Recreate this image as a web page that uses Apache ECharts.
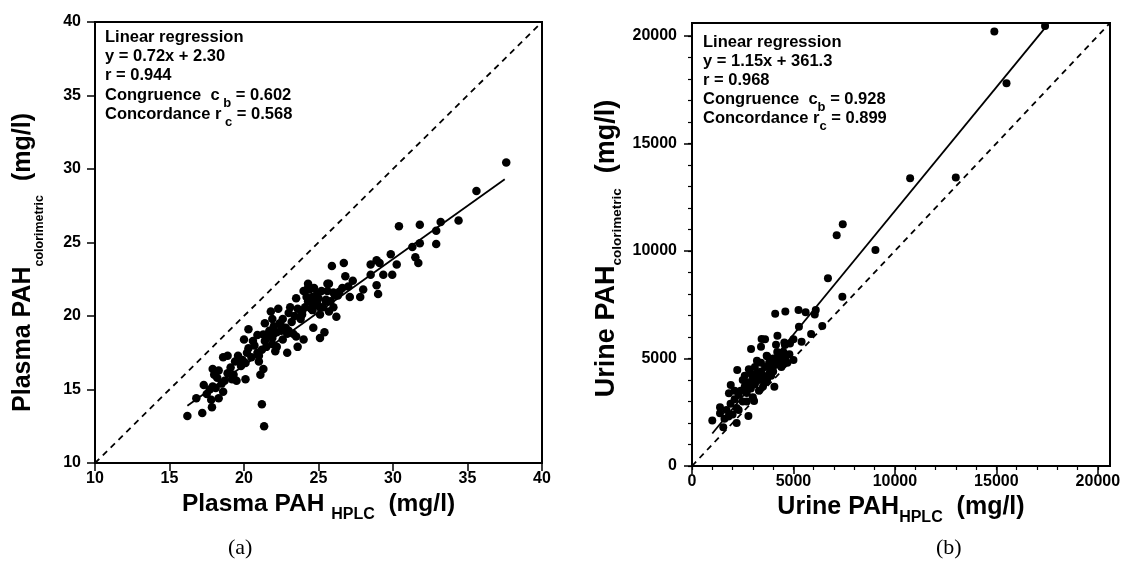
<!DOCTYPE html>
<html>
<head>
<meta charset="utf-8">
<script src="https://cdn.jsdelivr.net/npm/echarts@6/dist/echarts.min.js"></script>
<style>
  html, body { margin: 0; padding: 0; background: #fff; }
  #chart { width: 1132px; height: 578px; }
</style>
</head>
<body>
<div id="chart"></div>
<script>
// (a) plasma PAH: [HPLC, colorimetric] in mg/l
const plasmaPoints = [
  [16.2, 13.2], [17.2, 13.4], [16.8, 14.4], [17.85, 13.8], [17.8, 14.3], [18.3, 14.4],
  [17.3, 15.3], [21.2, 14.0], [21.35, 12.5], [17.7, 15.0], [18.1, 15.1], [18.6, 14.85],
  [18.7, 15.6], [17.9, 16.4], [18.3, 16.3], [18.6, 17.2], [18.9, 17.3], [19.3, 16.0],
  [19.5, 15.6], [20.1, 15.7], [19.8, 16.6], [20.3, 19.1], [20.0, 18.4], [20.6, 18.3],
  [20.2, 17.5], [20.9, 17.5], [21.1, 16.0], [21.0, 16.9], [21.3, 16.4], [21.4, 19.5],
  [21.3, 18.75], [21.9, 19.8], [22.1, 17.6], [21.9, 18.1], [21.5, 17.9], [22.3, 20.5],
  [22.5, 19.0], [22.6, 18.4], [22.9, 17.5], [23.0, 20.2], [23.2, 19.6], [23.3, 18.8],
  [23.5, 21.2], [23.6, 17.9], [24.0, 18.4], [23.9, 20.1], [24.4, 21.8], [24.65, 19.2],
  [24.3, 21.0], [24.8, 20.8], [24.9, 21.5], [25.1, 18.5], [25.4, 18.9], [25.1, 20.1],
  [25.7, 20.3], [25.6, 22.2], [26.2, 19.95], [26.3, 21.4], [25.9, 23.4], [26.7, 23.6],
  [26.8, 22.7], [27.3, 22.4], [27.1, 21.3], [27.8, 21.3], [28.0, 21.8], [28.5, 23.5],
  [28.5, 22.8], [28.9, 23.8], [28.9, 22.1], [29.0, 21.5], [29.1, 23.6], [29.35, 22.8],
  [29.85, 24.2], [29.95, 22.8], [30.25, 23.5], [30.4, 26.1], [31.3, 24.7], [31.5, 24.0],
  [31.7, 23.6], [31.8, 24.95], [31.8, 26.2], [32.9, 24.9], [32.9, 25.8], [33.2, 26.4],
  [34.4, 26.5], [35.6, 28.5], [37.6, 30.45], [26.4, 21.65], [27.0, 22.0], [25.5, 21.1],
  [26.0, 20.6], [25.1, 20.6], [24.3, 21.9], [24.6, 21.3], [24.5, 20.5], [23.9, 20.3],
  [22.0, 18.8], [23.5, 18.6], [22.9, 18.8], [22.5, 19.3], [17.9, 15.2], [18.2, 15.8],
  [18.5, 15.4], [18.9, 16.1], [19.1, 16.5], [19.4, 16.9], [19.6, 17.3], [19.9, 17.0],
  [20.3, 17.8], [20.5, 17.2], [20.7, 18.0], [20.9, 18.7], [21.0, 17.3], [21.2, 17.7],
  [21.4, 18.3], [21.6, 18.6], [21.7, 19.0], [21.9, 18.5], [22.0, 19.3], [22.2, 18.9],
  [22.4, 19.5], [22.6, 19.8], [22.8, 19.2], [23.0, 19.0], [23.1, 20.6], [23.4, 20.0],
  [23.6, 20.5], [23.8, 19.8], [24.1, 20.6], [24.2, 21.3], [24.5, 21.0], [24.6, 20.4],
  [24.7, 21.9], [24.9, 20.9], [25.0, 21.2], [25.2, 21.7], [25.3, 20.6], [25.5, 21.0],
  [25.8, 21.0], [26.0, 21.6], [26.6, 21.9], [19.2, 15.7], [18.0, 16.0], [17.5, 14.7],
  [20.1, 16.8], [22.2, 17.9], [21.8, 20.3], [24.3, 22.2], [24.0, 21.7], [25.7, 22.2],
  [26.1, 21.4], [25.6, 21.7]
];
const plasmaFit = [[16.2, 13.9], [37.5, 29.3]];
const plasmaIdentity = [[10, 10], [40, 40]];
const plasmaStats = [
  "{t|Linear regression}",
  "{t|y = 0.72x + 2.30}",
  "{t|r = 0.944}",
  "{t|Congruence  c}{s| b}{t| = 0.602}",
  "{t|Concordance r}{s| c}{t| = 0.568}"
];

// (b) urine PAH: [HPLC, colorimetric] in mg/l
const urinePoints = [
  [14900, 20200], [17400, 20460], [15500, 17800], [10750, 13380], [13000, 13420],
  [7130, 10730], [7430, 11240], [9040, 10040], [6700, 8730], [7410, 7870], [6420, 6510],
  [6100, 7250], [6050, 7050], [5250, 7250], [5600, 7150], [4600, 7180], [4100, 7080],
  [5270, 6480], [5870, 6140], [5000, 5890], [5400, 5780], [4550, 5740], [4210, 6060],
  [3430, 5900], [4140, 5640], [2910, 5440], [3400, 5550], [2230, 4460], [1820, 3380],
  [1910, 3770], [1000, 2110], [1380, 2730], [1540, 1800], [2200, 2000], [2780, 2330],
  [3060, 3020], [4060, 3690], [4440, 4880], [5000, 4930], [3680, 5130], [1380, 2450],
  [4830, 5700], [4580, 5630], [3600, 5890],
  [1700, 2600], [1900, 2900], [2100, 3100], [2200, 2700], [2300, 3300], [2400, 3500],
  [2500, 3000], [2600, 3700], [2700, 3400], [2800, 3900], [2900, 3600], [3000, 4100],
  [3100, 3800], [3200, 4300], [3300, 4000], [3400, 4400], [3500, 4200], [3600, 4600],
  [3700, 4000], [3800, 4800], [3900, 4500], [4000, 5000], [4100, 4700], [4200, 4900],
  [4300, 5100], [4400, 4600], [4600, 5000], [4700, 4800], [2600, 4200], [2800, 4500],
  [3100, 4600], [3300, 3500], [3500, 3700], [2000, 2400], [1600, 2200], [2500, 4000],
  [3000, 3200], [3700, 5100], [4200, 5300], [3900, 4200], [2300, 2600], [2100, 3500],
  [1800, 2300], [3400, 4800], [2700, 3000], [4500, 5300], [4800, 5200], [3600, 3900],
  [2900, 4300], [3200, 4900], [3800, 4300], [4000, 4400]
];
const urineFit = [[1000, 1511], [17400, 20371]];
const urineIdentity = [[0, 0], [20600, 20600]];
const urineMajorTicks = [0, 5000, 10000, 15000, 20000];
const urineMinorTicks = [];
for (let v = 0; v <= 20000; v += 1000) urineMinorTicks.push(v);
const urineStats = [
  "{t|Linear regression}",
  "{t|y = 1.15x + 361.3}",
  "{t|r = 0.968}",
  "{t|Congruence  c}{s|b}{t| = 0.928}",
  "{t|Concordance r}{s|c}{t| = 0.899}"
];

const FONT = "'Liberation Sans', Arial, sans-serif";
// rich styles for axis titles: m = main text, s = subscript
function titleRich(mainSize, subSize, subDrop) {
  return {
    m: { fontFamily: FONT, fontWeight: "bold", fontSize: mainSize, lineHeight: mainSize + 1, verticalAlign: "top", color: "#000" },
    s: { fontFamily: FONT, fontWeight: "bold", fontSize: subSize, lineHeight: subSize, padding: [subDrop, 0, 0, 0], verticalAlign: "top", color: "#000" }
  };
}
const statRich = {
  t: { fontFamily: FONT, fontWeight: "bold", fontSize: 16.5, lineHeight: 16, verticalAlign: "top", fill: "#000" },
  s: { fontFamily: FONT, fontWeight: "bold", fontSize: 13, lineHeight: 13, padding: [10, 0, 0, 0], verticalAlign: "top", fill: "#000" }
};
const labelStyle = { fontFamily: FONT, fontWeight: "bold", fontSize: 16, color: "#000" };
const blackLine = { color: "#000", width: 2 };

function mainAxis(gridIndex, min, max, interval, name, nameGap, rich, margin, custom, namePad) {
  const ax = {
    gridIndex, type: "value", min, max, interval,
    name, nameLocation: "middle", nameGap,
    nameTextStyle: { rich, padding: namePad || 0 },
    axisLine: { show: true, onZero: false, lineStyle: blackLine },
    axisTick: { show: true, inside: false, length: 8, lineStyle: { color: "#000", width: 1.5 } },
    axisLabel: Object.assign({ margin, formatter: (v) => String(v) }, labelStyle),
    splitLine: { show: false }
  };
  if (custom) {
    ax.axisTick.customValues = custom;
    ax.axisLabel.customValues = custom;
  }
  return ax;
}
function minorAxis(gridIndex, max) {
  return {
    gridIndex, type: "value", min: 0, max,
    axisLine: { show: false },
    axisTick: { show: true, inside: false, length: 4, customValues: urineMinorTicks, lineStyle: { color: "#000", width: 1.2 } },
    axisLabel: { show: false },
    splitLine: { show: false }
  };
}

const graphics = [];
plasmaStats.forEach((line, i) => {
  graphics.push({ type: "text", left: 105, top: 29 + i * 19.2, style: { text: line, rich: statRich } });
});
urineStats.forEach((line, i) => {
  graphics.push({ type: "text", left: 703, top: 34 + i * 19.1, style: { text: line, rich: statRich } });
});
graphics.push({ type: "text", left: 228, top: 537, style: { text: "(a)", font: "22px 'Liberation Serif', serif", fill: "#000" } });
graphics.push({ type: "text", left: 936, top: 537, style: { text: "(b)", font: "22px 'Liberation Serif', serif", fill: "#000" } });

const chart = echarts.init(document.getElementById("chart"));
chart.setOption({
  animation: false,
  backgroundColor: "#fff",
  grid: [
    { left: 95, top: 22, width: 447, height: 441, show: true, borderColor: "#000", borderWidth: 2, backgroundColor: "transparent" },
    { left: 692, top: 23, width: 418, height: 443, show: true, borderColor: "#000", borderWidth: 2, backgroundColor: "transparent" },
    { left: 692, top: 23, width: 418, height: 443, show: false }
  ],
  xAxis: [
    mainAxis(0, 10, 40, 5, "{m|Plasma PAH }{s|HPLC}{m|  (mg/l)}", 24, titleRich(24.5, 16, 15), 8),
    mainAxis(1, 0, 20600, 5000, "{m|Urine PAH}{s|HPLC}{m|  (mg/l)}", 24, titleRich(25, 16, 15), 8, urineMajorTicks),
    minorAxis(2, 20600)
  ],
  yAxis: [
    mainAxis(0, 10, 40, 5, "{m|Plasma PAH}{s|colorimetric}{m|  (mg/l)}", 58, titleRich(25, 12.5, 22), 14, null, [0, 40, 0, 0]),
    mainAxis(1, 0, 20600, 5000, "{m|Urine PAH}{s|colorimetric}{m|  (mg/l)}", 71, titleRich(27, 13.5, 17), 15, urineMajorTicks, [0, 8, 0, 0]),
    minorAxis(2, 20600)
  ],
  graphic: graphics,
  series: [
    { type: "line", xAxisIndex: 0, yAxisIndex: 0, data: plasmaIdentity, symbol: "none",
      lineStyle: { color: "#000", width: 1.8, type: [6, 5] } },
    { type: "line", xAxisIndex: 0, yAxisIndex: 0, data: plasmaFit, symbol: "none",
      lineStyle: { color: "#000", width: 1.8 } },
    { type: "scatter", xAxisIndex: 0, yAxisIndex: 0, data: plasmaPoints, symbol: "circle", symbolSize: 8.5,
      itemStyle: { color: "#000", opacity: 1 } },
    { type: "line", xAxisIndex: 1, yAxisIndex: 1, data: urineIdentity, symbol: "none",
      lineStyle: { color: "#000", width: 1.8, type: [6, 5] } },
    { type: "line", xAxisIndex: 1, yAxisIndex: 1, data: urineFit, symbol: "none",
      lineStyle: { color: "#000", width: 1.8 } },
    { type: "scatter", xAxisIndex: 1, yAxisIndex: 1, data: urinePoints, symbol: "circle", symbolSize: 8,
      itemStyle: { color: "#000", opacity: 1 } }
  ]
});
</script>
</body>
</html>
